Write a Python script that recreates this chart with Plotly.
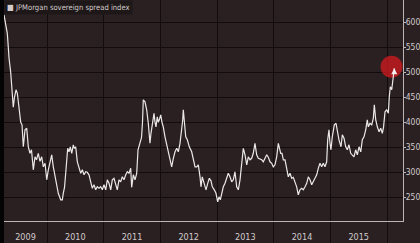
import plotly.graph_objects as go

# decimal-year time stamps and spread values (bp)
years = [
    2009.241, 2009.276, 2009.299, 2009.320, 2009.329, 2009.359, 2009.382, 2009.405, 2009.426, 2009.453,
    2009.476, 2009.511, 2009.536, 2009.559, 2009.582, 2009.612, 2009.642, 2009.670, 2009.700, 2009.726,
    2009.758, 2009.788, 2009.815, 2009.846, 2009.876, 2009.906, 2009.935, 2009.965, 2009.995, 2010.023,
    2010.053, 2010.083, 2010.111, 2010.141, 2010.171, 2010.199, 2010.242, 2010.270, 2010.287, 2010.309,
    2010.335, 2010.365, 2010.388, 2010.411, 2010.436, 2010.464, 2010.482, 2010.506, 2010.535, 2010.564,
    2010.595, 2010.623, 2010.653, 2010.683, 2010.711, 2010.741, 2010.771, 2010.799, 2010.829, 2010.859,
    2010.887, 2010.917, 2010.947, 2010.976, 2011.006, 2011.036, 2011.064, 2011.094, 2011.124, 2011.152,
    2011.182, 2011.212, 2011.240, 2011.270, 2011.300, 2011.329, 2011.359, 2011.389, 2011.417, 2011.447,
    2011.477, 2011.494, 2011.523, 2011.553, 2011.583, 2011.606, 2011.641, 2011.668, 2011.685, 2011.699,
    2011.729, 2011.759, 2011.787, 2011.817, 2011.835, 2011.865, 2011.888, 2011.906, 2011.923, 2011.946,
    2011.964, 2011.982, 2012.006, 2012.029, 2012.052, 2012.082, 2012.112, 2012.140, 2012.170, 2012.200,
    2012.229, 2012.259, 2012.289, 2012.317, 2012.347, 2012.377, 2012.395, 2012.405, 2012.423, 2012.448,
    2012.476, 2012.511, 2012.553, 2012.582, 2012.612, 2012.642, 2012.670, 2012.700, 2012.717, 2012.740,
    2012.776, 2012.806, 2012.836, 2012.864, 2012.894, 2012.917, 2012.952, 2012.982, 2013.012, 2013.035,
    2013.058, 2013.083, 2013.111, 2013.141, 2013.171, 2013.199, 2013.229, 2013.259, 2013.287, 2013.317,
    2013.347, 2013.376, 2013.406, 2013.436, 2013.464, 2013.494, 2013.524, 2013.552, 2013.582, 2013.612,
    2013.640, 2013.670, 2013.700, 2013.729, 2013.759, 2013.789, 2013.817, 2013.847, 2013.877, 2013.905,
    2013.935, 2013.965, 2013.993, 2014.023, 2014.053, 2014.082, 2014.099, 2014.124, 2014.147, 2014.170,
    2014.200, 2014.230, 2014.258, 2014.288, 2014.318, 2014.346, 2014.376, 2014.406, 2014.434, 2014.464,
    2014.494, 2014.523, 2014.553, 2014.583, 2014.611, 2014.641, 2014.671, 2014.699, 2014.729, 2014.759,
    2014.787, 2014.817, 2014.847, 2014.875, 2014.905, 2014.935, 2014.953, 2014.976, 2014.994, 2015.011,
    2015.034, 2015.070, 2015.100, 2015.129, 2015.152, 2015.188, 2015.211, 2015.241, 2015.271, 2015.299,
    2015.329, 2015.359, 2015.387, 2015.417, 2015.447, 2015.476, 2015.506, 2015.536, 2015.564, 2015.594,
    2015.624, 2015.652, 2015.670, 2015.700, 2015.730, 2015.758, 2015.776, 2015.801, 2015.829, 2015.859,
    2015.889, 2015.917, 2015.938, 2015.965, 2015.995, 2016.023, 2016.040, 2016.058, 2016.083, 2016.101,
    2016.118, 2016.128,
]
spread = [
    615, 590, 578, 545, 529, 500, 470, 430, 450, 465,
    458, 425, 400, 395, 351, 385, 388, 351, 338, 345,
    305, 331, 325, 338, 322, 331, 311, 318, 285, 305,
    320, 335, 311, 291, 271, 258, 245, 245, 258, 270,
    305, 348, 341, 351, 338, 355, 348, 351, 321, 308,
    298, 305, 295, 301, 300, 295, 278, 268, 275, 265,
    271, 268, 271, 265, 275, 265, 285, 278, 265, 285,
    288, 278, 265, 285, 281, 291, 285, 295, 301, 298,
    308, 270, 295, 285, 298, 345, 358, 370, 400, 445,
    441, 425, 398, 358, 378, 398, 418, 400, 391, 411,
    400, 405, 415, 400, 391, 371, 355, 345, 331, 311,
    328, 341, 348, 341, 358, 385, 405, 425, 398, 371,
    365, 351, 341, 325, 311, 311, 315, 291, 271, 291,
    275, 265, 278, 288, 283, 271, 265, 258, 241, 251,
    245, 258, 271, 278, 288, 298, 291, 281, 285, 301,
    271, 265, 285, 325, 348, 335, 315, 331, 325, 328,
    338, 358, 335, 328, 326, 325, 321, 328, 335, 330,
    321, 318, 311, 315, 331, 358, 348, 338, 338, 325,
    325, 305, 291, 298, 288, 290, 281, 271, 255, 265,
    268, 265, 271, 278, 291, 285, 275, 281, 288, 295,
    308, 318, 311, 318, 311, 321, 365, 385, 358, 345,
    371, 395, 398, 378, 365, 351, 375, 368, 351, 345,
    355, 338, 335, 331, 345, 335, 351, 341, 365, 371,
    385, 405, 391, 398, 395, 408, 435, 405, 391, 381,
    388, 378, 390, 421, 425, 418, 451, 471, 465, 478,
    498, 508,
]

year_boundaries = [2010, 2011, 2012, 2013, 2014, 2015, 2016]
year_label_pos = [2009.62, 2010.5, 2011.5, 2012.5, 2013.5, 2014.5, 2015.5]
year_labels = ["2009", "2010", "2011", "2012", "2013", "2014", "2015"]
y_ticks = [250, 300, 350, 400, 450, 500, 550, 600]
series_name = "JPMorgan sovereign spread index"
highlight_year = 2016.08
highlight_value = 511

BG = "#2a2022"
GRID = "#120c0e"
AXIS = "#bdb5b5"
TXT = "#d2cbcb"
FONT = "Liberation Sans Narrow, DejaVu Sans Condensed, Liberation Sans, Arial, sans-serif"

fig = go.Figure()
fig.add_trace(go.Scatter(
    x=[highlight_year], y=[highlight_value], mode="markers",
    marker=dict(size=22, color="rgba(205,25,30,0.78)", line=dict(width=0)),
    showlegend=False, hoverinfo="skip"))
fig.add_trace(go.Scatter(
    x=years, y=spread, mode="lines", name=series_name,
    line=dict(color="#ece8e8", width=1.2), showlegend=False))
fig.add_trace(go.Scatter(
    x=years[-1:], y=spread[-1:], mode="markers",
    marker=dict(symbol="arrow-up", size=6, color="#f4eeee", line=dict(width=0)),
    showlegend=False, hoverinfo="skip"))

fig.add_annotation(
    xref="paper", yref="paper", x=0, y=1, xanchor="left", yanchor="top",
    text="<span style='font-size:8px'>■</span> " + series_name,
    showarrow=False, bgcolor="#1d1718", borderpad=2,
    font=dict(family=FONT, size=7.6, color=TXT))

fig.add_shape(type="rect", xref="paper", yref="paper", x0=-0.02, x1=0, y0=-0.2, y1=1.05,
              fillcolor="#050404", line=dict(width=0), layer="below")

fig.update_layout(
    width=420, height=243,
    margin=dict(l=4, r=17, t=0, b=22),
    paper_bgcolor=BG, plot_bgcolor=BG,
    template="none",
    font=dict(family=FONT, size=9, color=TXT),
    xaxis=dict(
        range=[2009.241, 2016.282], autorange=False,
        tickvals=year_label_pos, ticktext=year_labels, ticks="",
        showgrid=False, zeroline=False,
        showline=True, linecolor=AXIS, linewidth=1,
        ticklabelstandoff=7,
        tickfont=dict(family=FONT, size=9, color=TXT),
        automargin=False,
        minor=dict(tickvals=year_boundaries, showgrid=True, gridcolor=GRID, gridwidth=1,
                   ticks="outside", ticklen=22, tickcolor=GRID, tickwidth=1),
    ),
    yaxis=dict(
        range=[202.6, 644.6], autorange=False, side="right",
        tickvals=y_ticks, ticks="outside", ticklen=2, tickcolor=AXIS,
        showgrid=True, gridcolor=GRID, gridwidth=1, zeroline=False,
        showline=True, linecolor=AXIS, linewidth=1,
        ticklabelstandoff=-2,
        tickfont=dict(family=FONT, size=8.5, color=TXT),
        automargin=False,
    ),
)

fig.write_html("out.html")
